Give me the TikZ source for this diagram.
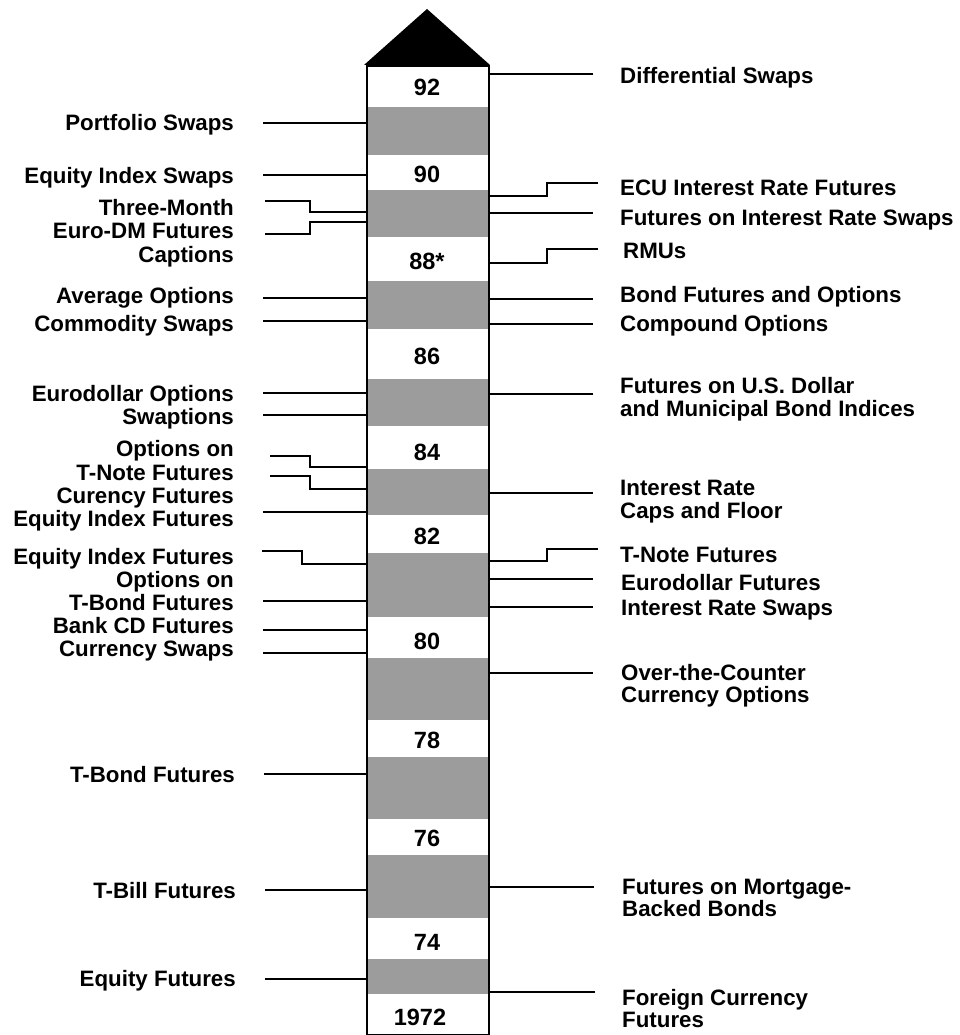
\documentclass[tikz,border=0pt]{standalone}
\usepackage{fontspec}
\setmainfont{Liberation Sans}
\definecolor{band}{RGB}{156,156,156}
\begin{document}
\begin{tikzpicture}[x=1pt,y=-1pt,
  lbl/.style={font=\bfseries\fontsize{22.3}{23}\selectfont, inner sep=0pt, text height=16pt, text depth=0pt},
  ll/.style={lbl, anchor=east},
  rl/.style={lbl, anchor=west},
  num/.style={font=\bfseries\fontsize{23.5}{24}\selectfont, inner sep=0pt, text height=17pt, text depth=0pt},
  conn/.style={line width=1.7pt}]
\useasboundingbox (0,0) rectangle (959,1035);
% bands
\fill[band] (366,107) rectangle (488,155);
\fill[band] (366,190) rectangle (488,237);
\fill[band] (366,281) rectangle (488,329);
\fill[band] (366,379) rectangle (488,426);
\fill[band] (366,469) rectangle (488,515);
\fill[band] (366,553) rectangle (488,617);
\fill[band] (366,658) rectangle (488,720);
\fill[band] (366,757) rectangle (488,819);
\fill[band] (366,855) rectangle (488,918);
\fill[band] (366,959) rectangle (488,994);
% column
\node[draw, line width=1.7pt, minimum width=122pt, minimum height=969pt, inner sep=0pt, anchor=north west] (col) at (366,65) {};
\fill (364,65) -- (427,9) -- (490,65) -- cycle;
% years
\node[num] (y92) at (427,87) {92};
\node[num] (y90) at (427,174) {90};
\node[num] (y88) at (427,261) {88*};
\node[num] (y86) at (427,356) {86};
\node[num] (y84) at (427,452) {84};
\node[num] (y82) at (427,536) {82};
\node[num] (y80) at (427,641) {80};
\node[num] (y78) at (427,740) {78};
\node[num] (y76) at (427,838) {76};
\node[num] (y74) at (427,942) {74};
\node[num] (y72) at (420,1017) {1972};
% left labels
\node[ll] (L1) at (234,123) {Portfolio Swaps};
\node[ll] (L2) at (234,175) {Equity Index Swaps};
\node[ll] (L3) at (234,207) {Three-Month};
\node[ll] (L4) at (234,230) {Euro-DM Futures};
\node[ll] (L5) at (234,254) {Captions};
\node[ll] (L6) at (234,295) {Average Options};
\node[ll] (L7) at (234,323) {Commodity Swaps};
\node[ll] (L8) at (234,393) {Eurodollar Options};
\node[ll] (L9) at (234,416) {Swaptions};
\node[ll] (L10) at (234,448) {Options on};
\node[ll] (L11) at (234,472) {T-Note Futures};
\node[ll] (L12) at (234,495) {Curency Futures};
\node[ll] (L13) at (234,518) {Equity Index Futures};
\node[ll] (L14) at (234,556) {Equity Index Futures};
\node[ll] (L15) at (234,579) {Options on};
\node[ll] (L16) at (234,602) {T-Bond Futures};
\node[ll] (L17) at (234,625) {Bank CD Futures};
\node[ll] (L18) at (234,648) {Currency Swaps};
\node[ll] (L19) at (235,774) {T-Bond Futures};
\node[ll] (L20) at (236,890) {T-Bill Futures};
\node[ll] (L21) at (236,978) {Equity Futures};
% left connectors
\coordinate (a1) at (263,123); \draw[conn] (a1) -- (a1 -| col.west);
\coordinate (a2) at (263,175); \draw[conn] (a2) -- (a2 -| col.west);
\coordinate (a3) at (265,201); \draw[conn] (a3) -- ++(45,0) -- ++(0,11) coordinate (t3) -- (t3 -| col.west);
\coordinate (a4) at (265,234); \draw[conn] (a4) -- ++(45,0) -- ++(0,-12) coordinate (t4) -- (t4 -| col.west);
\coordinate (a6) at (263,298); \draw[conn] (a6) -- (a6 -| col.west);
\coordinate (a7) at (263,321); \draw[conn] (a7) -- (a7 -| col.west);
\coordinate (a8) at (263,393); \draw[conn] (a8) -- (a8 -| col.west);
\coordinate (a9) at (263,415); \draw[conn] (a9) -- (a9 -| col.west);
\coordinate (a10) at (270,456); \draw[conn] (a10) -- ++(40,0) -- ++(0,11) coordinate (t10) -- (t10 -| col.west);
\coordinate (a12) at (270,476); \draw[conn] (a12) -- ++(40,0) -- ++(0,13) coordinate (t12) -- (t12 -| col.west);
\coordinate (a13) at (263,512); \draw[conn] (a13) -- (a13 -| col.west);
\coordinate (a14) at (262,551); \draw[conn] (a14) -- ++(40,0) -- ++(0,13) coordinate (t14) -- (t14 -| col.west);
\coordinate (a16) at (263,601); \draw[conn] (a16) -- (a16 -| col.west);
\coordinate (a17) at (263,630); \draw[conn] (a17) -- (a17 -| col.west);
\coordinate (a18) at (263,653); \draw[conn] (a18) -- (a18 -| col.west);
\coordinate (a19) at (264,774); \draw[conn] (a19) -- (a19 -| col.west);
\coordinate (a20) at (265,890); \draw[conn] (a20) -- (a20 -| col.west);
\coordinate (a21) at (265,979); \draw[conn] (a21) -- (a21 -| col.west);
% right labels
\node[rl] (R1) at (620,76) {Differential Swaps};
\node[rl] (R2) at (620,188) {ECU Interest Rate Futures};
\node[rl] (R3) at (620,217) {Futures on Interest Rate Swaps};
\node[rl] (R4) at (623,250) {RMUs};
\node[rl] (R5) at (620,294) {Bond Futures and Options};
\node[rl] (R6) at (620,323) {Compound Options};
\node[rl] (R7a) at (620,385) {Futures on U.S. Dollar};
\node[rl] (R7b) at (620,408) {and Municipal Bond Indices};
\node[rl] (R8a) at (620,487) {Interest Rate};
\node[rl] (R8b) at (620,510) {Caps and Floor};
\node[rl] (R9) at (620,554) {T-Note Futures};
\node[rl] (R10) at (621,582) {Eurodollar Futures};
\node[rl] (R11) at (621,607) {Interest Rate Swaps};
\node[rl] (R12a) at (621,672) {Over-the-Counter};
\node[rl] (R12b) at (621,694) {Currency Options};
\node[rl] (R13a) at (622,886) {Futures on Mortgage-};
\node[rl] (R13b) at (622,908) {Backed Bonds};
\node[rl] (R14a) at (622,997) {Foreign Currency};
\node[rl] (R14b) at (622,1019) {Futures};
% right connectors
\coordinate (b1) at (593,74); \draw[conn] (b1) -- (b1 -| col.east);
\coordinate (b2) at (598,183); \draw[conn] (b2) -- ++(-51,0) -- ++(0,13) coordinate (u2) -- (u2 -| col.east);
\coordinate (b3) at (593,213); \draw[conn] (b3) -- (b3 -| col.east);
\coordinate (b4) at (598,249); \draw[conn] (b4) -- ++(-51,0) -- ++(0,14) coordinate (u4) -- (u4 -| col.east);
\coordinate (b5) at (593,299); \draw[conn] (b5) -- (b5 -| col.east);
\coordinate (b6) at (593,324); \draw[conn] (b6) -- (b6 -| col.east);
\coordinate (b7) at (593,394); \draw[conn] (b7) -- (b7 -| col.east);
\coordinate (b8) at (593,493); \draw[conn] (b8) -- (b8 -| col.east);
\coordinate (b9) at (598,549); \draw[conn] (b9) -- ++(-51,0) -- ++(0,12) coordinate (u9) -- (u9 -| col.east);
\coordinate (b10) at (593,579); \draw[conn] (b10) -- (b10 -| col.east);
\coordinate (b11) at (593,607); \draw[conn] (b11) -- (b11 -| col.east);
\coordinate (b12) at (593,673); \draw[conn] (b12) -- (b12 -| col.east);
\coordinate (b13) at (594,887); \draw[conn] (b13) -- (b13 -| col.east);
\coordinate (b14) at (595,992); \draw[conn] (b14) -- (b14 -| col.east);
\end{tikzpicture}
\end{document}
